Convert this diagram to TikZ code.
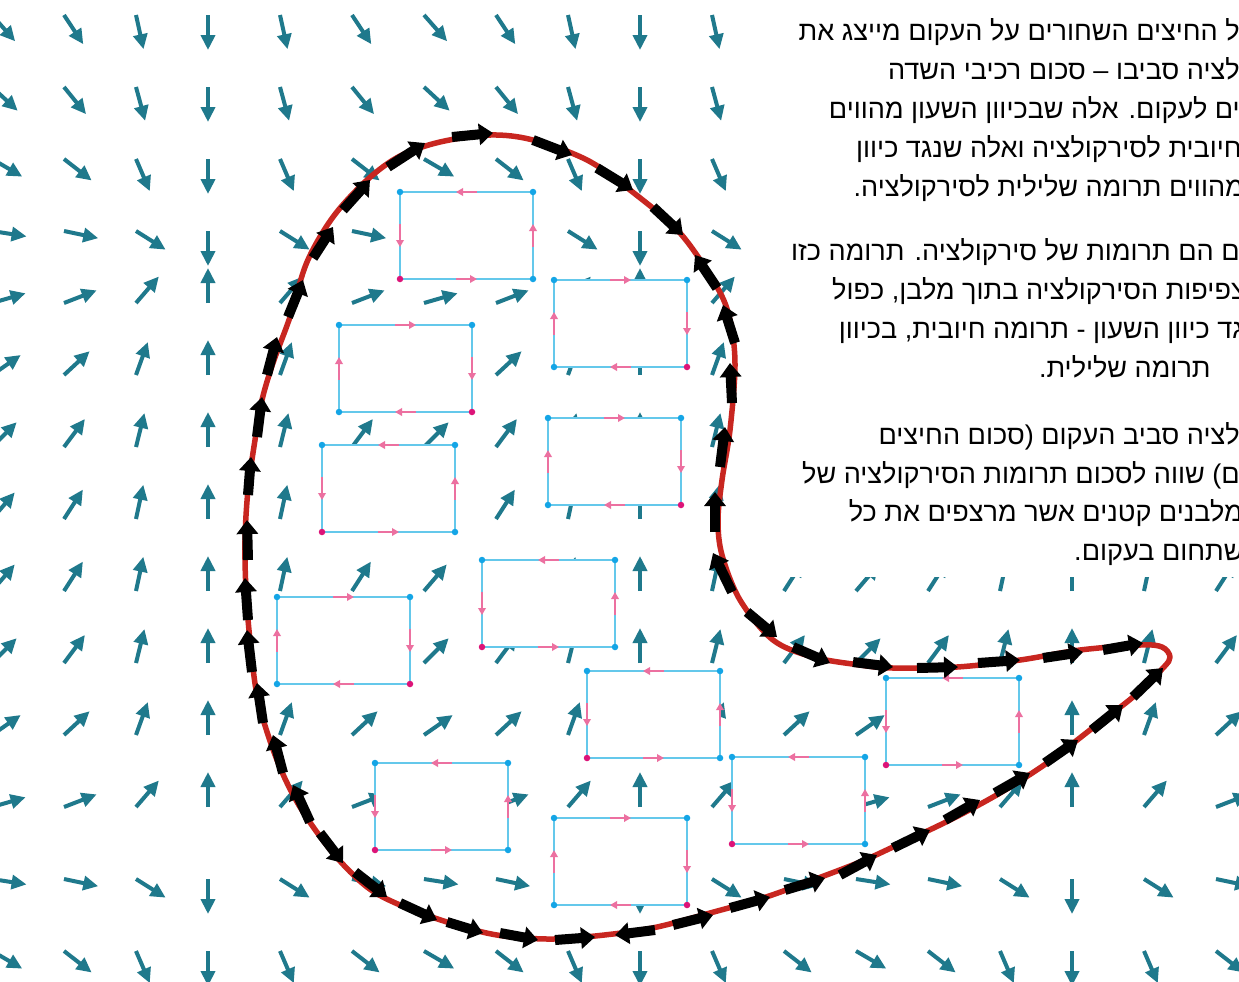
\documentclass[tikz,border=0pt]{standalone}
\usepackage{fontspec}
\newfontfamily\hebfont[Script=Hebrew]{Liberation Sans}
\TeXXeTstate=1
\usetikzlibrary{arrows.meta}
\definecolor{fieldteal}{RGB}{31,121,140}
\definecolor{loopred}{RGB}{200,38,32}
\definecolor{cellblue}{RGB}{100,200,235}
\definecolor{dotblue}{RGB}{20,165,230}
\definecolor{dotmag}{RGB}{220,20,120}
\definecolor{edgepink}{RGB}{236,112,160}
\tikzset{
  fieldarr/.style={-{Triangle[length=3mm,width=2.8mm]}, line width=0.8mm, fieldteal},
  tanarr/.style={-{Triangle[length=2.8mm,width=4.2mm]}, line width=2mm, black},
  loopln/.style={line width=1.1mm, loopred, line join=round},
  cellbox/.style={draw=cellblue, line width=0.3mm, fill=white},
  edgearr/.style={-{Triangle[length=1.4mm,width=1.5mm]}, line width=0.45mm, edgepink},
  hebtext/.style={font=\hebfont\fontsize{15.4}{19}\selectfont, inner sep=0pt, anchor=base east},
}
\newcommand{\celldot}[2]{\fill[#1] #2 circle (0.65mm);}
% counter-clockwise cell, top left corner at (#1,#2)
\newcommand{\cellccw}[2]{%
  \draw[cellbox] (#1,#2) rectangle ++(133,87);
  \draw[edgearr] ({#1+77},#2) -- ++(-21,0);
  \draw[edgearr] (#1,{#2+32}) -- ++(0,23);
  \draw[edgearr] ({#1+56},{#2+87}) -- ++(21,0);
  \draw[edgearr] ({#1+133},{#2+55}) -- ++(0,-23);
  \celldot{dotblue}{(#1,#2)}
  \celldot{dotblue}{({#1+133},#2)}
  \celldot{dotblue}{({#1+133},{#2+87})}
  \celldot{dotmag}{(#1,{#2+87})}
}
% clockwise cell
\newcommand{\cellcw}[2]{%
  \draw[cellbox] (#1,#2) rectangle ++(133,87);
  \draw[edgearr] ({#1+56},#2) -- ++(21,0);
  \draw[edgearr] ({#1+133},{#2+32}) -- ++(0,23);
  \draw[edgearr] ({#1+77},{#2+87}) -- ++(-21,0);
  \draw[edgearr] (#1,{#2+55}) -- ++(0,-23);
  \celldot{dotblue}{(#1,#2)}
  \celldot{dotblue}{({#1+133},#2)}
  \celldot{dotblue}{(#1,{#2+87})}
  \celldot{dotmag}{({#1+133},{#2+87})}
}

\begin{document}
\begin{tikzpicture}[x=0.2mm, y=-0.2mm]
  \useasboundingbox (0,0) rectangle (1239,981);
  \fill[white] (0,0) rectangle (1239,981);
  % --- vector field ---
  \foreach \k in {0,...,17}{
    \foreach \j in {0,...,13}{
      \pgfmathsetmacro{\fp}{0.42*(1-cos(60*(\k-3)))}
      \pgfmathsetmacro{\fq}{cos(360*(\j-7.5)/16.6)}
      \pgfmathsetmacro{\fn}{35/sqrt(\fp*\fp+\fq*\fq)}
      \draw[fieldarr] ({-8+72*\k},{15+72*\j}) -- ++({\fp*\fn},{-\fq*\fn});
    }
  }
  % --- small cells ---
  \cellccw{400}{192}
  \cellcw{554}{280}
  \cellcw{339}{325}
  \cellccw{322}{445}
  \cellcw{548}{418}
  \cellccw{482}{560}
  \cellcw{277}{597}
  \cellccw{587}{671}
  \cellccw{375}{763}
  \cellcw{554}{818}
  \cellccw{732}{757}
  \cellccw{886}{678}
  % --- explanation ---
  \fill[white] (782,0) rectangle (1239,577);
  \node[hebtext] (ta) at (1240,40) {\beginR ל החיצים השחורים על העקום מייצג את\endR};
  \node[hebtext] (tb) at (1240,79) {\beginR לציה סביבו – סכום רכיבי השדה\endR};
  \node[hebtext] (tc) at (1240,118) {\beginR ים לעקום. אלה שבכיוון השעון מהווים\endR};
  \node[hebtext] (td) at (1242,157) {\beginR חיובית לסירקולציה ואלה שנגד כיוון\endR};
  \node[hebtext] (te) at (1244,196) {\beginR מהווים תרומה שלילית לסירקולציה.\endR};
  \node[hebtext] (tf) at (1240,260) {\beginR ם הם תרומות של סירקולציה. תרומה כזו\endR};
  \node[hebtext] (tg) at (1246,299) {\beginR צפיפות הסירקולציה בתוך מלבן, כפול\endR};
  \node[hebtext] (th) at (1244,338) {\beginR גד כיוון השעון - תרומה חיובית, בכיוון\endR};
  \node[hebtext] (ti) at (1211,377) {\beginR תרומה שלילית.\endR};
  \node[hebtext] (tj) at (1240,444) {\beginR לציה סביב העקום (סכום החיצים\endR};
  \node[hebtext] (tk) at (1240,483) {\beginR ם) שווה לסכום תרומות הסירקולציה של\endR};
  \node[hebtext] (tl) at (1243,521) {\beginR מלבנים קטנים אשר מרצפים את כל\endR};
  \node[hebtext] (tm) at (1244,560) {\beginR שתחום בעקום.\endR};
  % --- the closed curve ---
  \draw[loopln] plot[smooth cycle, tension=0.55] coordinates {
    (490,135) (533,140) (587,160) (630,190) (680,233) (717,287) (730,320)
    (735,365) (730,430) (722,480) (718,520) (722,555) (740,600) (773,640)
    (813,657) (860,665) (893,668) (957,667) (1020,660) (1080,650) (1140,645)
    (1162,647) (1170,657) (1163,668) (1133,697) (1090,730) (1047,763)
    (1000,793) (950,820) (893,847) (860,862) (813,880) (763,898) (710,913)
    (657,927) (613,934) (553,939) (497,935) (447,922) (400,905) (367,887)
    (333,853) (300,807) (277,760) (258,700) (250,640) (246,590) (245,540)
    (248,490) (255,440) (262,400) (273,363) (290,317) (307,262) (333,217)
    (367,180) (400,156) (440,142)};
  % --- tangential parts along the curve ---
  \foreach \ax/\ay/\bx/\by in {
    388/167/425/143, 452/137/493/133, 533/140/572/155, 597/168/633/190,
    653/207/683/235, 717/288/695/255, 735/343/723/305, 732/403/730/363,
    720/467/725/427, 715/532/715/492, 732/592/713/553, 747/612/777/637,
    793/647/830/663, 853/662/893/667, 917/668/958/667, 978/663/1020/660,
    1043/658/1083/652, 1103/650/1143/643,
    1133/697/1163/668, 1092/730/1123/705, 1045/763/1078/740,
    995/793/1030/773, 945/820/980/800, 893/848/930/830, 840/875/877/855,
    785/890/825/878, 730/908/770/897, 673/925/713/915, 655/930/615/935,
    555/940/595/937, 500/933/538/940, 447/922/483/933, 400/903/437/920,
    355/872/387/897, 320/833/343/863,
    310/822/293/785, 283/773/273/735, 263/723/257/683, 252/672/247/630,
    248/620/245/578, 248/560/247/520, 248/495/251/457, 257/437/262/397,
    267/375/277/337, 288/317/303/280, 313/258/333/227, 343/210/370/180}
    \draw[tanarr] (\ax,\ay) -- (\bx,\by);
\end{tikzpicture}
\end{document}
